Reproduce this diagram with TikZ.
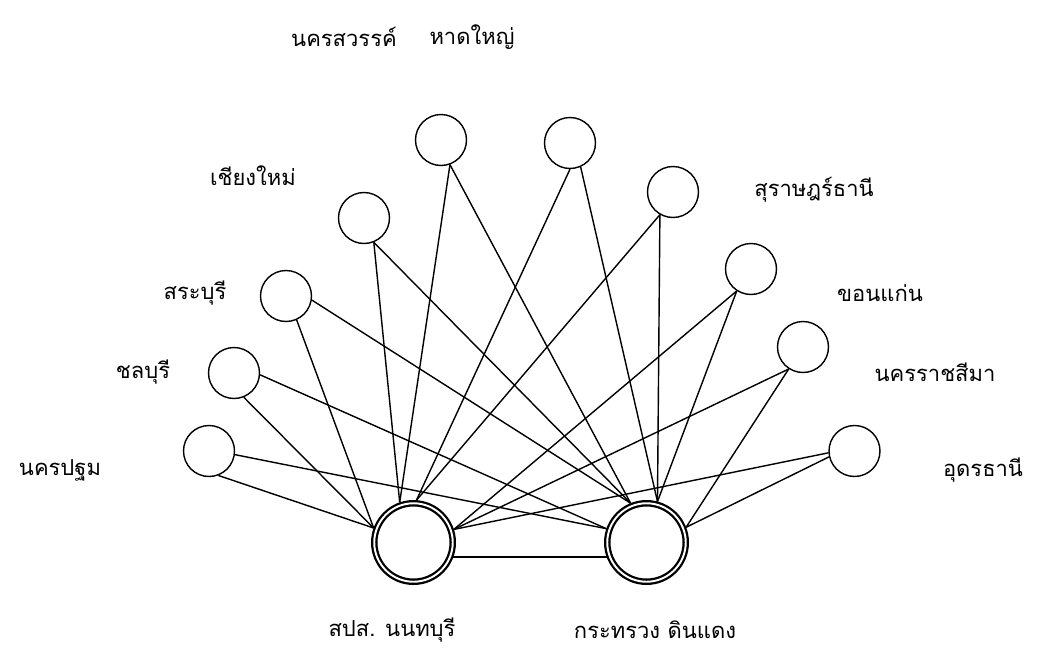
\documentclass[tikz,border=0pt]{standalone}
\usepackage{fontspec}
\newfontfamily\thaifont[Script=Thai]{Loma}

\begin{document}
\begin{tikzpicture}[
      x=0.02cm, y=-0.02cm,
      every node/.style={font=\thaifont\fontsize{12.5}{15}\selectfont},
      site/.style={
        draw, circle, minimum size=1.02cm, inner sep=0pt, line width=0.8pt
      },
      hub/.style={
        draw, circle, minimum size=1.57cm, inner sep=0pt, outer sep=1.8pt,
        line width=1.3pt, double=white, double distance=1.1pt
      },
      link/.style={line width=0.8pt}
    ]
    \useasboundingbox (0,0) rectangle (1042,650);

    % hubs
    \node[hub] (non) at (413.5,542.5) {};
    \node[hub] (din) at (646.5,542.5) {};
    \node (lnon) at (392,630) {สปส. นนทบุรี};
    \node (ldin) at (655,630) {กระทรวง ดินแดง};

    % provinces
    \node[site] (npt) at (209,451) {};
    \node[site] (cbr) at (234,373) {};
    \node[site] (sbr) at (286,296) {};
    \node[site] (cmi) at (364,218) {};
    \node[site] (nsn) at (441,140) {};
    \node[site] (hdy) at (570,143) {};
    \node[site] (srt) at (673,192) {};
    \node[site] (kkn) at (751,269) {};
    \node[site] (nma) at (803,347) {};
    \node[site] (udn) at (854.5,451) {};

    \node (lnpt) at (60,470) {นครปฐม};
    \node (lcbr) at (143,372) {ชลบุรี};
    \node (lsbr) at (195,293) {สระบุรี};
    \node (lcmi) at (253,176) {เชียงใหม่};
    \node (lnsn) at (344,37) {นครสวรรค์};
    \node (lhdy) at (472,37) {หาดใหญ่};
    \node (lsrt) at (814,190) {สุราษฎร์ธานี};
    \node (lkkn) at (880,293) {ขอนแก่น};
    \node (lnma) at (935,372) {นครราชสีมา};
    \node (ludn) at (983,470) {อุดรธานี};

    \draw[link] (non.-20) -- (din.200);

    \draw[link] (npt.-69) -- (non.160);
    \draw[link] (npt.-8) -- (din.161);
    \draw[link] (cbr.-68) -- (non.160);
    \draw[link] (cbr.-4) -- (din.161);
    \draw[link] (sbr.-66) -- (non.160);
    \draw[link] (sbr.-9) -- (din.112);
    \draw[link] (cmi.-68) -- (non.109);
    \draw[link] (cmi.-68) -- (din.112);
    \draw[link] (nsn.-70) -- (non.109);
    \draw[link] (nsn.-70) -- (din.112);
    \draw[link] (hdy.-90) -- (non.86);
    \draw[link] (hdy.-66) -- (din.75);
    \draw[link] (srt.-120) -- (non.86);
    \draw[link] (srt.-120) -- (din.75);
    \draw[link] (kkn.-123) -- (non.18);
    \draw[link] (kkn.-123) -- (din.75);
    \draw[link] (nma.-123) -- (non.18);
    \draw[link] (nma.-123) -- (din.21);
    \draw[link] (udn.184) -- (non.18);
    \draw[link] (udn.193) -- (din.21);
  \end{tikzpicture}
\end{document}
